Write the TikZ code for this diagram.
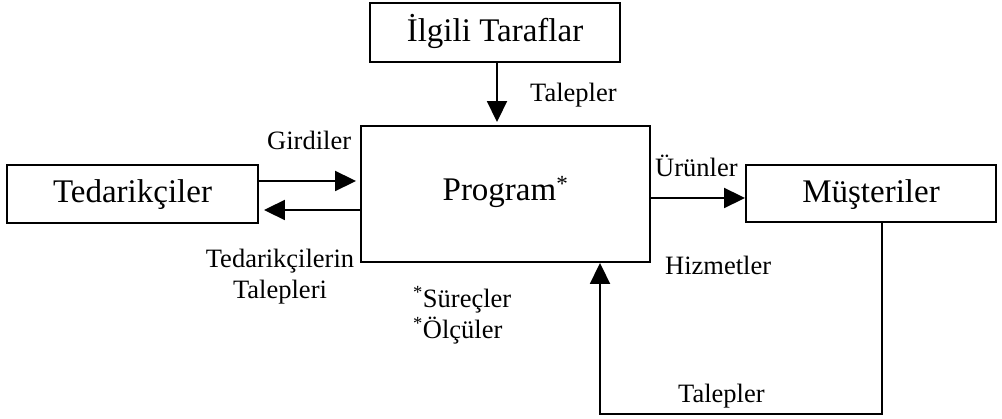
\documentclass[tikz,border=0pt]{standalone}
\usepackage{fontspec}
\setmainfont{Liberation Serif}
\usetikzlibrary{arrows.meta}
\begin{document}
\begin{tikzpicture}[x=1pt,y=-1pt,
  bigfont/.style={font=\fontsize{33}{38}\selectfont},
  smallfont/.style={font=\fontsize{26.5}{31}\selectfont},
  boxnode/.style={draw,line width=1.9pt,bigfont,inner sep=0pt,
    text height=22pt,text depth=4pt},
  lbl/.style={smallfont,inner sep=0pt},
  arr/.style={line width=1.9pt,-{Triangle[length=21pt,width=20pt]}},
  conn/.style={line width=1.9pt}]
\useasboundingbox (0,0) rectangle (1002,419);

% boxes
\node[boxnode,minimum width=250pt,minimum height=59pt] (ilgili) at (495,32.5) {İlgili Taraflar};
\node[boxnode,minimum width=251pt,minimum height=58pt] (ted) at (132.5,194) {Tedarikçiler};
\node[boxnode,minimum width=250pt,minimum height=57pt] (mus) at (871,193.5) {Müşteriler};
\node[boxnode,minimum width=289pt,minimum height=136pt,text depth=8pt] (prog) at (505.5,194) {Program\textsuperscript{*}};

% connectors
\draw[arr,shorten >=3pt] (ilgili.south -| 497,0) -- (prog.north -| 497,0);
\draw[arr,shorten >=4pt] (ted.east |- 0,181) -- (prog.west |- 0,181);
\draw[arr,shorten >=5pt] (prog.west |- 0,210) -- (ted.east |- 0,210);
\draw[arr] (prog.east |- 0,198) -- (mus.west |- 0,198);
\coordinate (corner) at (600,414);
\draw[arr] (mus.south -| 882,0) |- (corner) -- (prog.south -| corner);

% labels
\node[lbl,anchor=base west] (girdi) at (267,150) {Girdiler};
\node[lbl,anchor=base west] (talep1) at (530,102) {Talepler};
\node[lbl,anchor=base west] (urun) at (655,177) {Ürünler};
\node[lbl,anchor=base west] (hizmet) at (665,275) {Hizmetler};
\node[lbl,anchor=base west] (talep2) at (678,403) {Talepler};
\node[lbl,align=center,anchor=north] (tedtalep) at (280,249) {Tedarikçilerin\\Talepleri};
\node[lbl,align=left,anchor=north west] (surec) at (413,286) {\textsuperscript{*}Süreçler\\\textsuperscript{*}Ölçüler};
\end{tikzpicture}
\end{document}
